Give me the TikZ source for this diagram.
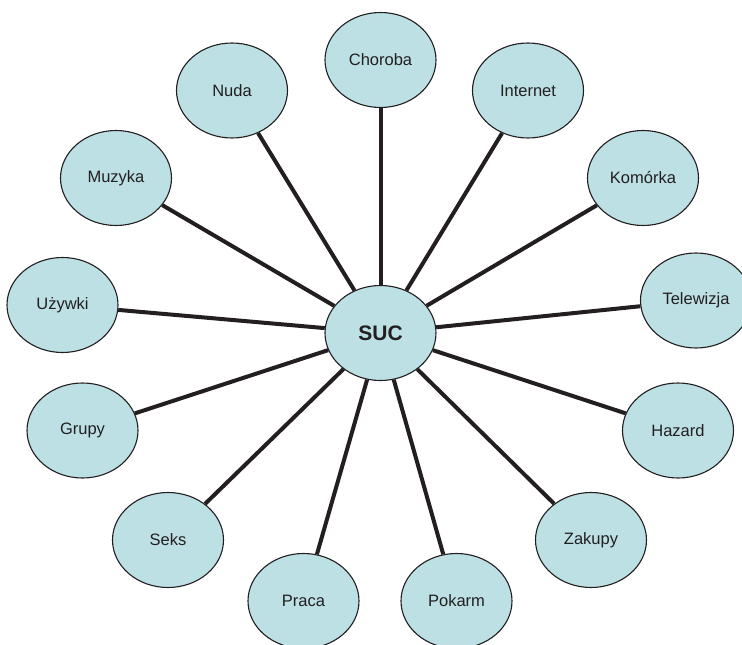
\documentclass[tikz,border=0pt]{standalone}
\usepackage{fontspec}
\setmainfont{Liberation Sans}
\usetikzlibrary{shapes.geometric}
\definecolor{bubble}{RGB}{188,224,228}
\definecolor{ink}{RGB}{35,31,32}
\tikzset{
    topic/.style = {ellipse, draw=ink, line width=1.1pt, fill=bubble, text=ink,
                    minimum width=111pt, minimum height=95pt, inner sep=0pt,
                    font=\fontsize{16.5}{19}\selectfont},
    spoke/.style = {draw=ink, line width=4pt}
}

\begin{document}
\begin{tikzpicture}[x=1pt, y=-1pt]
    \useasboundingbox (0,0) rectangle (742,645);
    \node [topic, font=\fontsize{21}{25}\selectfont\bfseries] (suc) at (380.5,333) {SUC};
    \node [topic] (choroba)   at (380.5,60)  {Choroba};
    \node [topic] (internet)  at (528,90.5)  {Internet};
    \node [topic] (komorka)   at (643,178)   {Komórka};
    \node [topic] (telewizja) at (696,300.5) {Telewizja};
    \node [topic] (hazard)    at (678,430.5) {Hazard};
    \node [topic] (zakupy)    at (591,540)   {Zakupy};
    \node [topic] (pokarm)    at (456.5,601) {Pokarm};
    \node [topic] (praca)     at (303.5,601) {Praca};
    \node [topic] (seks)      at (168,540)   {Seks};
    \node [topic] (grupy)     at (82.5,430.5) {Grupy};
    \node [topic] (uzywki)    at (62.5,305)  {Używki};
    \node [topic] (muzyka)    at (116,178)   {Muzyka};
    \node [topic] (nuda)      at (232,90.5)  {Nuda};
    \foreach \n in {choroba, internet, komorka, telewizja, hazard, zakupy,
                    pokarm, praca, seks, grupy, uzywki, muzyka, nuda}
        \draw [spoke] (suc) -- (\n);
\end{tikzpicture}
\end{document}
